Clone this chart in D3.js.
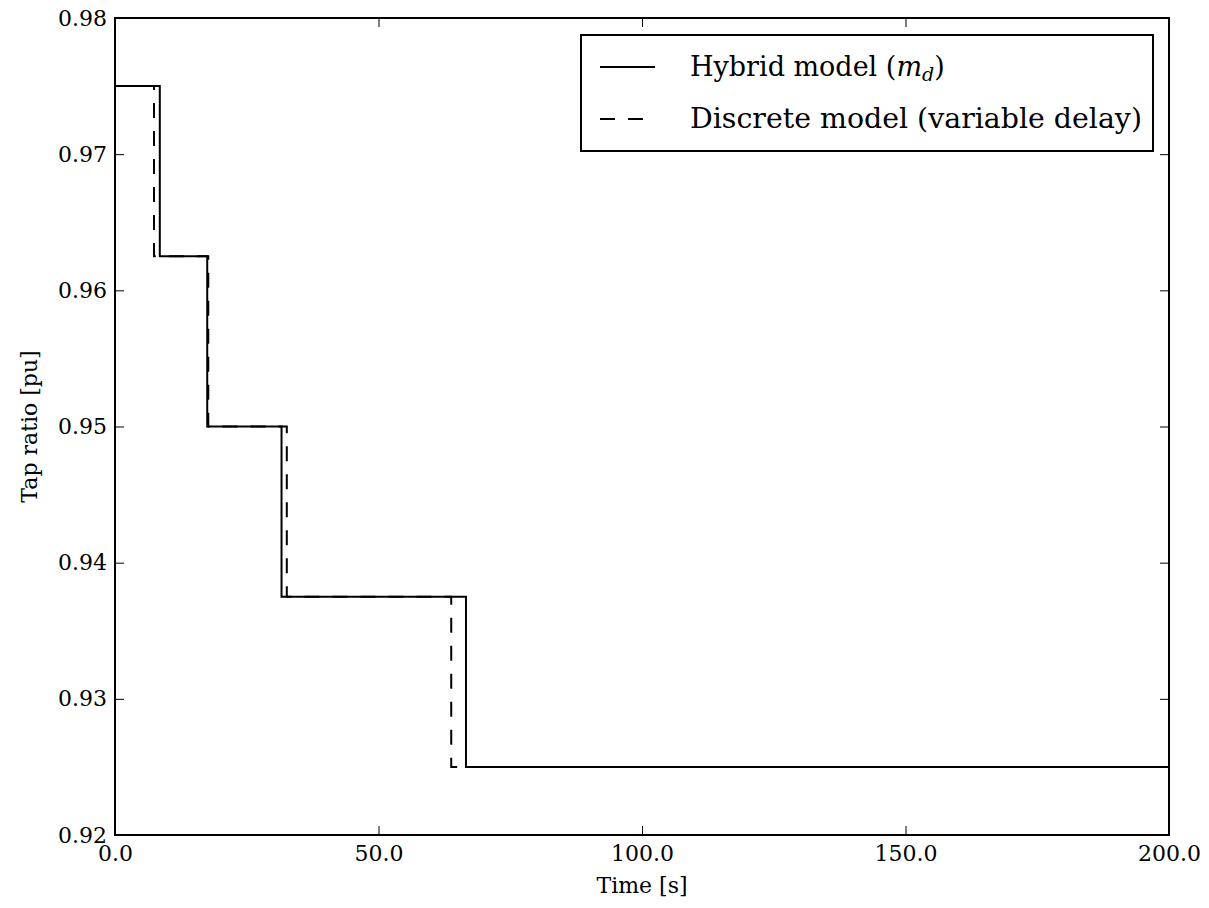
<!DOCTYPE html>
<html><head><meta charset="utf-8">
<script src="https://cdn.jsdelivr.net/npm/d3@7"></script>
<style>body{margin:0;background:#fff}</style>
</head><body><svg id="c" width="1209" height="908"></svg>
<script>
// Step data: [time, tap ratio] breakpoints (value holds until next time)
const hybridTimes = [0, 8.5, 17.5, 31.6, 66.6, 200];
const hybridValues = [0.975, 0.9625, 0.95, 0.9375, 0.925, 0.925];
const discreteTimes = [0, 7.4, 17.7, 32.6, 63.8, 200];
const discreteValues = [0.975, 0.9625, 0.95, 0.9375, 0.925, 0.925];
const xTicks = [0, 50, 100, 150, 200];
const yTicks = [0.92, 0.93, 0.94, 0.95, 0.96, 0.97, 0.98];
const legendLabels = ["Hybrid model (", "Discrete model (variable delay)"];

const FF = "'DejaVu Serif', serif";
const svg = d3.select("#c");
const L = 115, R = 1169, T = 18, B = 835;
const x = d3.scaleLinear().domain([0, 200]).range([L, R]);
const y = d3.scaleLinear().domain([0.92, 0.98]).range([B, T]);

const line = d3.line().x(d => x(d[0])).y(d => y(d[1])).curve(d3.curveStepAfter);
const hyb = hybridTimes.map((t, i) => [t, hybridValues[i]]);
const dis = discreteTimes.map((t, i) => [t, discreteValues[i]]);

svg.append("clipPath").attr("id", "clp").append("rect")
  .attr("x", L).attr("y", T).attr("width", R - L).attr("height", B - T);

const g = svg.append("g").attr("clip-path", "url(#clp)");
g.append("path").datum(dis).attr("d", line).attr("fill", "none")
  .attr("stroke", "#000").attr("stroke-width", 2).attr("stroke-dasharray", "15,13");
g.append("path").datum(hyb).attr("d", line).attr("fill", "none")
  .attr("stroke", "#000").attr("stroke-width", 2);

const fs = 22;
const ax = svg.append("g").attr("transform", `translate(0,${B})`)
  .call(d3.axisBottom(x).tickValues(xTicks).tickFormat(d3.format(".1f")).tickSize(-9).tickPadding(6));
const axT = svg.append("g").attr("transform", `translate(0,${T})`)
  .call(d3.axisTop(x).tickValues(xTicks).tickFormat("").tickSize(-9));
const ay = svg.append("g").attr("transform", `translate(${L},0)`)
  .call(d3.axisLeft(y).tickValues(yTicks).tickFormat(d3.format(".2f")).tickSize(-9).tickPadding(8));
const ayR = svg.append("g").attr("transform", `translate(${R},0)`)
  .call(d3.axisRight(y).tickValues(yTicks).tickFormat("").tickSize(-9));
[ax, axT, ay, ayR].forEach(a => {
  a.attr("font-family", FF).attr("font-size", fs);
  a.select(".domain").remove();
  a.selectAll("line").attr("stroke", "#000").attr("stroke-width", 1);
  a.selectAll("text").attr("fill", "#000");
});
ax.selectAll("text").attr("dy", "0.9em");

svg.append("rect").attr("x", L).attr("y", T).attr("width", R - L).attr("height", B - T)
  .attr("fill", "none").attr("stroke", "#000").attr("stroke-width", 2);

svg.append("text").attr("x", (L + R) / 2).attr("y", 893).attr("text-anchor", "middle")
  .attr("font-family", FF).attr("font-size", fs).text("Time [s]");
svg.append("text").attr("transform", `translate(37,${(T + B) / 2}) rotate(-90)`).attr("text-anchor", "middle")
  .attr("font-family", FF).attr("font-size", fs).text("Tap ratio [pu]");

const lg = svg.append("g").attr("font-family", FF);
lg.append("rect").attr("x", 581).attr("y", 35).attr("width", 572).attr("height", 116)
  .attr("fill", "#fff").attr("stroke", "#000").attr("stroke-width", 2);
lg.append("line").attr("x1", 600).attr("x2", 655).attr("y1", 67).attr("y2", 67)
  .attr("stroke", "#000").attr("stroke-width", 2);
lg.append("line").attr("x1", 600).attr("x2", 655).attr("y1", 119).attr("y2", 119)
  .attr("stroke", "#000").attr("stroke-width", 2).attr("stroke-dasharray", "15,13");
const t1 = lg.append("text").attr("x", 690).attr("y", 76).attr("font-size", 27);
t1.append("tspan").text(legendLabels[0]);
t1.append("tspan").attr("font-style", "italic").text("m");
t1.append("tspan").attr("font-style", "italic").attr("font-size", 19).attr("dy", 5).text("d");
t1.append("tspan").attr("dy", -5).text(")");
lg.append("text").attr("x", 690).attr("y", 128).attr("font-size", 27)
  .attr("textLength", 452).attr("lengthAdjust", "spacingAndGlyphs").text(legendLabels[1]);
</script></body></html>
